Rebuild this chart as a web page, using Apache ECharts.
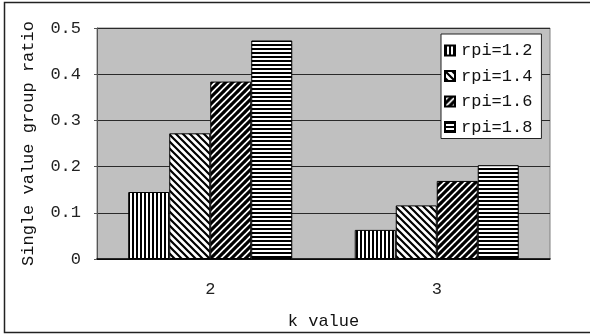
<!DOCTYPE html>
<html>
<head>
<meta charset="utf-8">
<script src="https://cdn.jsdelivr.net/npm/echarts@6/dist/echarts.min.js"></script>
<style>
  html, body { margin: 0; padding: 0; background: #fff; }
  #chart { width: 590px; height: 335px; }
</style>
</head>
<body>
<div id="chart"></div>
<script>
// k values on the category axis
const categories = ['2', '3'];
// series names (one per rpi setting)
const seriesNames = ['rpi=1.2', 'rpi=1.4', 'rpi=1.6', 'rpi=1.8'];
// single value group ratio per k value
const rpi12 = [0.145, 0.063];
const rpi14 = [0.272, 0.116];
const rpi16 = [0.384, 0.169];
const rpi18 = [0.473, 0.203];
const yTicks = [0, 0.1, 0.2, 0.3, 0.4, 0.5];

const FONT = '"Liberation Mono", "DejaVu Sans Mono", monospace';

// hatch fills drawn onto small tiles
function tile(w, h, draw) {
  const c = document.createElement('canvas');
  c.width = w; c.height = h;
  const ctx = c.getContext('2d');
  ctx.fillStyle = '#fff';
  ctx.fillRect(0, 0, w, h);
  ctx.fillStyle = '#000';
  ctx.strokeStyle = '#000';
  draw(ctx);
  return { image: c, repeat: 'repeat' };
}
const vertical = tile(4, 4, ctx => ctx.fillRect(0, 0, 2, 4));
const horizontal = tile(4, 4, ctx => ctx.fillRect(0, 0, 4, 2));
function diag(p, lw, down) {
  return tile(p, p, ctx => {
    ctx.lineWidth = lw;
    ctx.beginPath();
    for (let k = -1; k <= 1; k++) {
      if (down) { ctx.moveTo(-1, k * p - 1); ctx.lineTo(p + 1, p + k * p + 1); }
      else { ctx.moveTo(-1, p + k * p + 1); ctx.lineTo(p + 1, k * p - 1); }
    }
    ctx.stroke();
  });
}
const backDiag = diag(7, 2.2, true);
const fwdDiag = diag(7, 3.2, false);
const fills = [vertical, backDiag, fwdDiag, horizontal];
const values = [rpi12, rpi14, rpi16, rpi18];

const chart = echarts.init(document.getElementById('chart'), null, { renderer: 'canvas' });
chart.setOption({
  animation: false,
  textStyle: { fontFamily: FONT },
  graphic: [{
    type: 'rect',
    shape: { x: 4.5, y: 2.5, width: 600, height: 330 },
    style: { fill: 'none', stroke: '#222', lineWidth: 1.5 },
    silent: true
  }],
  grid: {
    left: 97, right: 40, top: 28, bottom: 71,
    show: true, backgroundColor: '#c0c0c0', borderColor: '#808080', borderWidth: 1
  },
  legend: {
    orient: 'vertical',
    left: 441, top: 34,
    data: seriesNames,
    icon: 'rect',
    itemWidth: 10, itemHeight: 10,
    itemGap: 8.5,
    padding: [8, 9, 3, 3],
    backgroundColor: '#fff',
    borderColor: '#222', borderWidth: 1,
    textStyle: { fontFamily: FONT, fontSize: 17, color: '#111', padding: [0, 0, 0, 1] }
  },
  xAxis: {
    type: 'category',
    data: categories,
    name: 'k value',
    nameLocation: 'middle',
    nameGap: 54,
    nameTextStyle: { fontFamily: FONT, fontSize: 17, color: '#111' },
    axisLine: { lineStyle: { color: '#000', width: 1.5 } },
    axisTick: { inside: true, length: 4, lineStyle: { color: '#333' } },
    axisLabel: { fontFamily: FONT, fontSize: 17, color: '#222', margin: 22 }
  },
  yAxis: {
    type: 'value',
    min: 0, max: 0.5, interval: 0.1,
    name: 'Single value group ratio',
    nameLocation: 'middle',
    nameGap: 60,
    nameTextStyle: { fontFamily: FONT, fontSize: 17, color: '#111' },
    axisLine: { show: true, lineStyle: { color: '#555' } },
    axisTick: { show: true, length: 3, lineStyle: { color: '#555' } },
    axisLabel: {
      fontFamily: FONT, fontSize: 17, color: '#222', margin: 16,
      formatter: v => {
        const t = yTicks.find(x => Math.abs(x - v) < 1e-9);
        return t === 0 ? '0' : String(t);
      }
    },
    splitLine: { lineStyle: { color: '#2a2a2a', width: 1 } }
  },
  series: seriesNames.map((name, i) => ({
    name,
    type: 'bar',
    data: values[i],
    barGap: '0%',
    barCategoryGap: '27.6%',
    itemStyle: { color: fills[i], borderColor: '#000', borderWidth: 1 }
  }))
});
</script>
</body>
</html>
